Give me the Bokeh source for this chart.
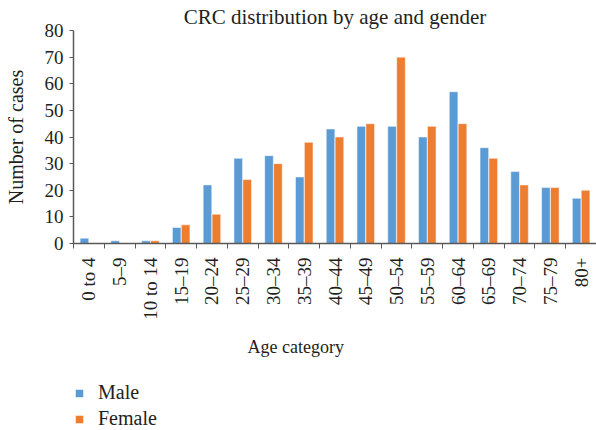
import math
from bokeh.plotting import figure
from bokeh.layouts import column
from bokeh.models import (Range1d, FixedTicker, Legend, LegendItem, ColumnDataSource, Title)
from bokeh.transform import dodge
from bokeh.embed import file_html
from bokeh.resources import INLINE

categories = ["0 to 4", "5\u20139", "10 to 14", "15\u201319", "20\u201324", "25\u201329",
              "30\u201334", "35\u201339", "40\u201344", "45\u201349", "50\u201354", "55\u201359",
              "60\u201364", "65\u201369", "70\u201374", "75\u201379", "80+"]
male = [2, 1, 1, 6, 22, 32, 33, 25, 43, 44, 44, 40, 57, 36, 27, 21, 17]
female = [0, 0, 1, 7, 11, 24, 30, 38, 40, 45, 70, 44, 45, 32, 22, 21, 20]
y_ticks = [0, 10, 20, 30, 40, 50, 60, 70, 80]
series = ["Male", "Female"]

FONT = "Liberation Serif"
TEXT = "#231f20"
AXIS = "#595959"
BLUE = "#5b9bd5"
ORANGE = "#ed7d31"

n = len(categories)
idx = list(range(n))
bw = 0.28
off = 0.145

p = figure(width=596, height=370, output_backend="svg", toolbar_location=None,
           x_range=Range1d(-0.5, n - 0.5), y_range=Range1d(0, 80),
           title="CRC distribution by age and gender",
           min_border_left=73, min_border_right=0, min_border_top=30, min_border_bottom=127)
p.outline_line_color = None
p.grid.visible = False

src = ColumnDataSource(dict(x=idx, male=male, female=female))
bar_style = dict(width=bw, source=src, line_color="white", line_alpha=0.5, line_width=1)
r1 = p.vbar(x=dodge("x", -off), top="male", fill_color=BLUE, **bar_style)
r2 = p.vbar(x=dodge("x", off), top="female", fill_color=ORANGE, **bar_style)

p.title.text_font = FONT
p.title.text_font_size = "21px"
p.title.text_font_style = "normal"
p.title.text_color = TEXT
p.title.align = "center"
p.title.standoff = 4

xa = p.xaxis[0]
xa.ticker = FixedTicker(ticks=idx, minor_ticks=[i - 0.5 for i in range(n + 1)])
xa.major_label_overrides = {i: c for i, c in zip(idx, categories)}
xa.major_label_orientation = math.pi / 2
xa.major_tick_line_color = None
xa.major_tick_out = 5
xa.minor_tick_line_color = AXIS
xa.minor_tick_out = 5
xa.minor_tick_in = 0
xa.axis_line_color = AXIS
xa.axis_line_width = 1.5
xa.major_label_text_font = FONT
xa.major_label_text_font_size = "19px"
xa.major_label_text_color = TEXT
xa.major_label_standoff = 9

xlabel = Title(text="Age category", align="left", offset=174, standoff=24,
               text_font=FONT, text_font_size="18px", text_font_style="normal",
               text_color=TEXT)
p.add_layout(xlabel, "below")

ya = p.yaxis[0]
ya.ticker = FixedTicker(ticks=y_ticks)
ya.minor_tick_line_color = None
ya.major_tick_out = 4
ya.major_tick_in = 0
ya.major_tick_line_color = AXIS
ya.axis_line_color = AXIS
ya.axis_line_width = 1.5
ya.major_label_text_font = FONT
ya.major_label_text_font_size = "19px"
ya.major_label_text_color = TEXT
ya.major_label_standoff = 6
ya.axis_label = "Number of cases"
ya.axis_label_text_font = FONT
ya.axis_label_text_font_size = "20px"
ya.axis_label_text_font_style = "normal"
ya.axis_label_text_color = TEXT
ya.axis_label_standoff = 15

# legend panel below the chart (legend keys from hidden copies of the series renderers)
lg = figure(width=596, height=60, output_backend="svg", toolbar_location=None,
            x_range=Range1d(-0.5, n - 0.5), y_range=Range1d(0, 80),
            x_axis_type=None, y_axis_type=None,
            min_border_left=0, min_border_right=0, min_border_top=0, min_border_bottom=0)
lg.outline_line_color = None
lg.grid.visible = False
k1 = lg.vbar(x=dodge("x", -off), top="male", fill_color=BLUE, **bar_style)
k2 = lg.vbar(x=dodge("x", off), top="female", fill_color=ORANGE, **bar_style)
k1.visible = False
k2.visible = False
legend = Legend(items=[LegendItem(label=series[0], renderers=[k1]),
                       LegendItem(label=series[1], renderers=[k2])],
                orientation="vertical", location=(1, 0),
                border_line_color=None, background_fill_alpha=0,
                inactive_fill_alpha=0,
                label_text_font=FONT, label_text_font_size="20px", label_text_color=TEXT,
                glyph_width=10, glyph_height=10, label_standoff=14, spacing=3,
                padding=1, margin=0)
lg.add_layout(legend)

layout = column(p, lg, spacing=0)
open("out.html", "w").write(file_html(layout, INLINE))
